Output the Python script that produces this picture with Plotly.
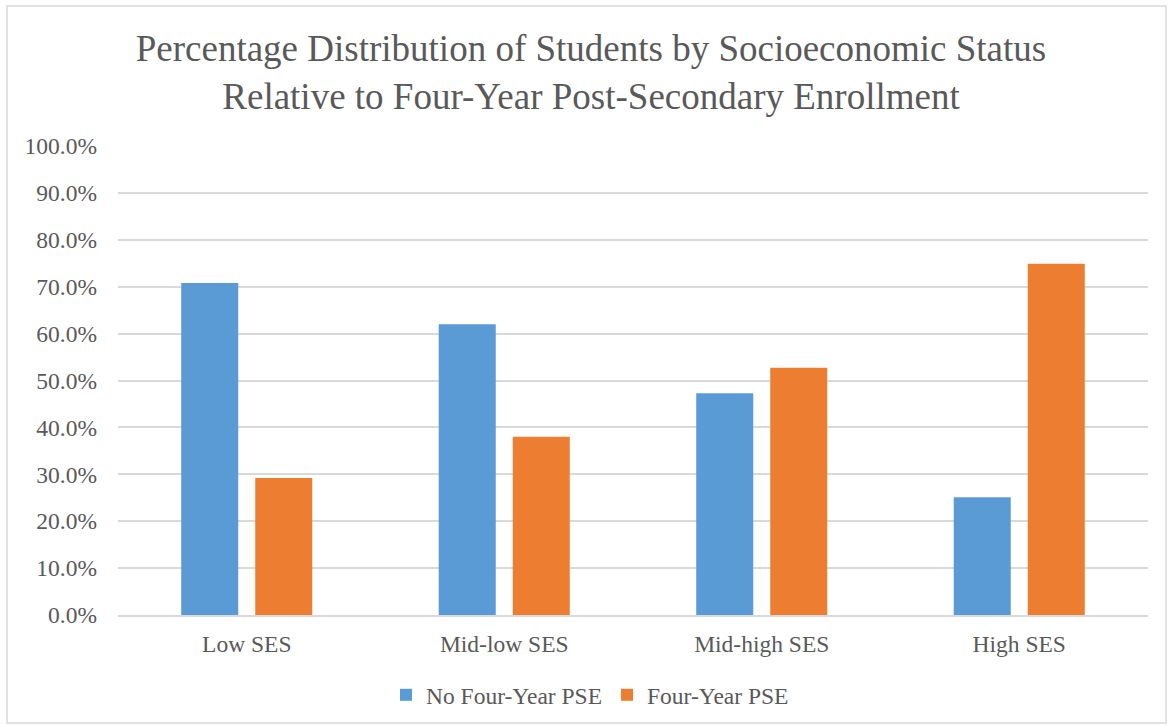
import plotly.graph_objects as go

categories = ["Low SES", "Mid-low SES", "Mid-high SES", "High SES"]
no_four_year = [70.8, 62.0, 47.3, 25.1]
four_year = [29.2, 38.0, 52.7, 74.9]
y_ticks = [0, 10, 20, 30, 40, 50, 60, 70, 80, 90, 100]
y_tick_labels = [f"{v:.1f}%" for v in y_ticks]

FONT = "Times New Roman, Liberation Serif, DejaVu Serif, serif"
TXT = "#595959"

fig = go.Figure()
fig.add_trace(go.Bar(name="No Four-Year PSE", x=categories, y=no_four_year,
                     marker=dict(color="#5B9BD5", line=dict(width=0))))
fig.add_trace(go.Bar(name="Four-Year PSE", x=categories, y=four_year,
                     marker=dict(color="#ED7D31", line=dict(width=0))))

fig.update_layout(
    width=1168, height=725,
    paper_bgcolor="white", plot_bgcolor="white",
    margin=dict(l=118, r=20, t=146, b=110),
    font=dict(family=FONT, color=TXT, size=23.5),
    title=dict(text="Percentage Distribution of Students by Socioeconomic Status<br>Relative to Four-Year Post-Secondary Enrollment",
               font=dict(family=FONT, size=37, color=TXT),
               x=591/1168, xanchor="center", xref="container",
               y=1 - 61/725, yanchor="middle", yref="container"),
    barmode="group", bargap=0.425, bargroupgap=0.23,
    legend=dict(orientation="h", xref="container", yref="container",
                x=590/1168, xanchor="center", y=1 - 695/725, yanchor="middle",
                itemwidth=30,
                font=dict(family=FONT, size=23.5, color=TXT), traceorder="normal"),
    showlegend=True,
)
fig.update_yaxes(range=[0, 100], tickvals=y_ticks, ticktext=y_tick_labels,
                 showgrid=True, gridcolor="#D9D9D9", gridwidth=1.5,
                 zeroline=False, showline=False, ticks="", ticklabelstandoff=20,
                 tickfont=dict(family=FONT, size=23.5, color=TXT))
fig.update_xaxes(showline=True, linecolor="#D9D9D9", linewidth=1.5, ticks="",
                 ticklabelstandoff=7,
                 tickfont=dict(family=FONT, size=23.5, color=TXT))

# chart-area border
fig.add_shape(type="rect", xref="paper", yref="paper",
              x0=(7 - 118) / 1030, x1=(1166 - 118) / 1030,
              y0=(615 - 723) / 469, y1=(615 - 6) / 469,
              line=dict(color="#D9D9D9", width=1.5), fillcolor="rgba(0,0,0,0)",
              layer="below")

fig.write_html("out.html")
